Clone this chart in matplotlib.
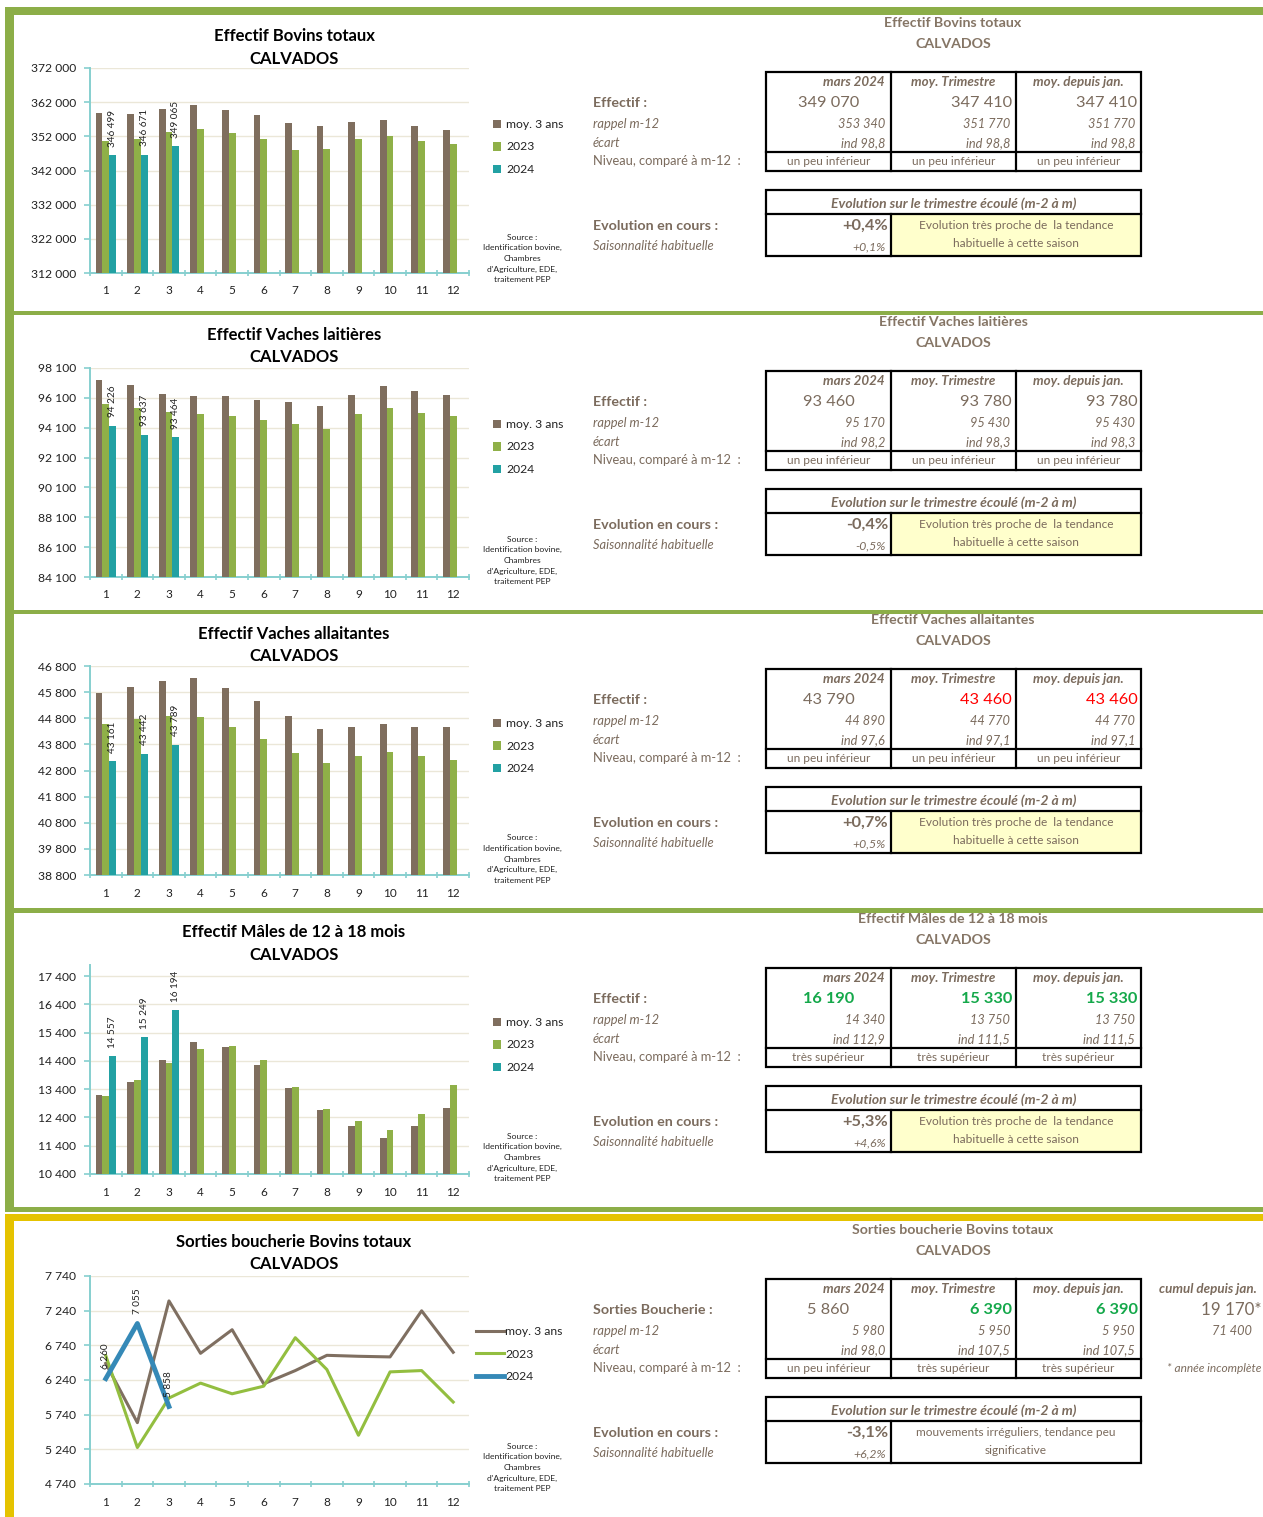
import matplotlib
matplotlib.use("Agg")
import matplotlib.pyplot as plt
from matplotlib.patches import Rectangle
import numpy as np

plt.rcParams['font.family'] = ['Lato', 'DejaVu Sans']

W, H = 1263, 1517

# ---------------- DATA ----------------
months = list(range(1, 13))
series_names = ['moy. 3 ans', '2023', '2024']

bov_moy = [358900, 358400, 360060, 361130, 359770, 358120, 356000, 355000, 356300, 356850, 355000, 353940]
bov_2023 = [350740, 351220, 353340, 354230, 353070, 351220, 348020, 348210, 351220, 352100, 350640, 349670]
bov_2024 = [346499, 346671, 349065]
bov_yticks = [312000, 322000, 332000, 342000, 352000, 362000, 372000]

vl_moy = [97290, 96930, 96390, 96220, 96200, 95975, 95796, 95550, 96266, 96870, 96579, 96266]
vl_2023 = [95718, 95426, 95170, 95020, 94870, 94610, 94342, 94006, 94990, 95415, 95080, 94879]
vl_2024 = [94226, 93637, 93464]
vl_yticks = [84100, 86100, 88100, 90100, 92100, 94100, 96100, 98100]

va_moy = [45757, 46011, 46210, 46335, 45960, 45477, 44892, 44383, 44459, 44586, 44472, 44484]
va_2023 = [44599, 44790, 44890, 44853, 44484, 44014, 43467, 43098, 43365, 43518, 43339, 43212]
va_2024 = [43161, 43442, 43789]
va_yticks = [38800, 39800, 40800, 41800, 42800, 43800, 44800, 45800, 46800]

ma_moy = [13185, 13657, 14448, 15062, 14885, 14248, 13433, 12666, 12111, 11686, 12087, 12737]
ma_2023 = [13160, 13740, 14340, 14803, 14921, 14437, 13480, 12701, 12264, 11945, 12512, 13539]
ma_2024 = [14557, 15249, 16194]
ma_yticks = [10400, 11400, 12400, 13400, 14400, 15400, 16400, 17400]

sb_moy = [6480, 5625, 7381, 6625, 6965, 6185, 6376, 6596, 6582, 6573, 7238, 6640]
sb_2023 = [6590, 5266, 5980, 6195, 6041, 6151, 6850, 6391, 5443, 6357, 6376, 5922]
sb_2024 = [6260, 7055, 5858]
sb_yticks = [4740, 5240, 5740, 6240, 6740, 7240, 7740]

titles = ['Effectif Bovins totaux', 'Effectif Vaches laitières', 'Effectif Vaches allaitantes',
          'Effectif Mâles de 12 à 18 mois', 'Sorties boucherie Bovins totaux']
region = 'CALVADOS'
source_text = "Source :\nIdentification bovine,\nChambres\nd'Agriculture, EDE,\ntraitement PEP"

tab_headers = ['mars 2024', 'moy. Trimestre', 'moy. depuis jan.']
row_labels = ['Effectif :', 'Effectif :', 'Effectif :', 'Effectif :', 'Sorties Boucherie :']

bov_tab = ['349 070', '347 410', '347 410']
bov_rappel = ['353 340', '351 770', '351 770']
bov_ecart = ['ind 98,8', 'ind 98,8', 'ind 98,8']
bov_niveau = ['un peu inférieur'] * 3

vl_tab = ['93 460', '93 780', '93 780']
vl_rappel = ['95 170', '95 430', '95 430']
vl_ecart = ['ind 98,2', 'ind 98,3', 'ind 98,3']
vl_niveau = ['un peu inférieur'] * 3

va_tab = ['43 790', '43 460', '43 460']
va_rappel = ['44 890', '44 770', '44 770']
va_ecart = ['ind 97,6', 'ind 97,1', 'ind 97,1']
va_niveau = ['un peu inférieur'] * 3

ma_tab = ['16 190', '15 330', '15 330']
ma_rappel = ['14 340', '13 750', '13 750']
ma_ecart = ['ind 112,9', 'ind 111,5', 'ind 111,5']
ma_niveau = ['très supérieur'] * 3

sb_tab = ['5 860', '6 390', '6 390']
sb_rappel = ['5 980', '5 950', '5 950']
sb_ecart = ['ind 98,0', 'ind 107,5', 'ind 107,5']
sb_niveau = ['un peu inférieur', 'très supérieur', 'très supérieur']

evol_values = ['+0,4%', '-0,4%', '+0,7%', '+5,3%', '-3,1%']
saison_values = ['+0,1%', '-0,5%', '+0,5%', '+4,6%', '+6,2%']
comment_std = 'Evolution très proche de  la tendance\nhabituelle à cette saison'
comment_irr = 'mouvements irréguliers, tendance peu\nsignificative'

cumul_header = 'cumul depuis jan.'
cumul_value = '19 170*'
cumul_rappel = '71 400'
cumul_note = '* année incomplète'

# ---------------- STYLE ----------------
C_MOY = '#7f6e5e'
C_23 = '#8fb048'
C_24 = '#22a1a3'
L_MOY = '#7f6f61'
L_23 = '#93be40'
L_24 = '#3589b7'
SPINE_C = '#86cfcf'
GRID_C = '#ebe7d8'
TXT = '#7b6b5d'
TTL = '#857565'
GREEN_V = '#14a84a'
RED_V = '#ff0000'
FRAME_G = '#8cae48'
FRAME_Y = '#e5c300'
YELLOW = '#ffffcc'


def fmt(v):
    return f"{int(round(v)):,}".replace(",", " ")


fig = plt.figure(figsize=(W / 100, H / 100), dpi=100)
ax0 = fig.add_axes([0, 0, 1, 1])
ax0.set_xlim(0, W)
ax0.set_ylim(H, 0)
ax0.axis('off')

# ---------------- FRAMES ----------------
ax0.add_patch(Rectangle((5, 7), W - 5, 8, color=FRAME_G, lw=0))
ax0.add_patch(Rectangle((5, 7), 9, 1203, color=FRAME_G, lw=0))
for ys in [310.5, 609.5, 908, 1207]:
    ax0.add_patch(Rectangle((5, ys), W - 5, 4.5, color=FRAME_G, lw=0))
ax0.add_patch(Rectangle((5, 1214), W - 5, 7, color=FRAME_Y, lw=0))
ax0.add_patch(Rectangle((5, 1214), 9, H - 1214, color=FRAME_Y, lw=0))

# ---------------- CHARTS ----------------
chart_title_y = [(36, 59), (335, 357), (634, 656), (932, 955), (1242, 1264)]
chart_axes_y = [(68, 273), (368, 577), (666, 875), (965, 1174), (1276, 1484)]
legend_mid_y = [147, 447, 746, 1045, 1354]
source_mid_y = [258.5, 560.5, 859, 1157.5, 1467.5]

bar_data = [(bov_moy, bov_2023, bov_2024, bov_yticks),
            (vl_moy, vl_2023, vl_2024, vl_yticks),
            (va_moy, va_2023, va_2024, va_yticks),
            (ma_moy, ma_2023, ma_2024, ma_yticks)]
ylims = [(312000, 372000), (84100, 98100), (38800, 46800), (10400, 17790), (4740, 7740)]

x = np.array(months)


def style_axis(ax, yticks, ylim):
    ax.set_facecolor('none')
    ax.set_xlim(0.5, 12.5)
    ax.set_ylim(*ylim)
    ax.set_yticks(yticks)
    ax.set_yticklabels([fmt(v) for v in yticks])
    ax.set_xticks(x)
    ax.set_xticklabels([str(m) for m in months])
    ax.set_xticks(np.arange(0.5, 13, 1), minor=True)
    ax.tick_params(axis='x', which='major', length=0, pad=9, labelsize=8.5, labelcolor='#222222')
    ax.tick_params(axis='x', which='minor', length=4, color=SPINE_C, width=1.2, direction='inout')
    ax.tick_params(axis='y', length=4, color=SPINE_C, width=1.2, pad=6, labelsize=8.7, labelcolor='#222222')
    ax.grid(axis='y', color=GRID_C, lw=1.0, zorder=0)
    ax.set_axisbelow(True)
    for s in ['top', 'right']:
        ax.spines[s].set_visible(False)
    for s in ['left', 'bottom']:
        ax.spines[s].set_color(SPINE_C)
        ax.spines[s].set_linewidth(1.4)


for i in range(5):
    y0, y1 = chart_axes_y[i]
    ax = fig.add_axes([90 / W, 1 - y1 / H, (469 - 90) / W, (y1 - y0) / H])
    if i < 4:
        moy, y23, y24, yt = bar_data[i]
        bw = 0.215
        h1 = ax.bar(x - bw, moy, bw, color=C_MOY, label=series_names[0], zorder=3)
        h2 = ax.bar(x, y23, bw, color=C_23, label=series_names[1], zorder=3)
        x24 = x[:len(y24)]
        h3 = ax.bar(x24 + bw, y24, bw, color=C_24, label=series_names[2], zorder=3)
        for xi, v in zip(x24, y24):
            ax.annotate(fmt(v), (xi + bw, v), xytext=(0, 6), textcoords='offset points',
                        rotation=90, ha='center', va='bottom', fontsize=7.2, color='#222222')
        style_axis(ax, yt, ylims[i])
        leg = ax.legend(handles=[h1, h2, h3], loc='center left',
                        bbox_to_anchor=(482 / W, 1 - legend_mid_y[i] / H),
                        bbox_transform=fig.transFigure, frameon=False, fontsize=8.7,
                        handlelength=0.7, handleheight=0.7, handletextpad=0.4, labelspacing=0.95)
    else:
        l1, = ax.plot(x, sb_moy, color=L_MOY, lw=2.2, label=series_names[0], zorder=3)
        l2, = ax.plot(x, sb_2023, color=L_23, lw=2.2, label=series_names[1], zorder=3)
        x24 = x[:len(sb_2024)]
        l3, = ax.plot(x24, sb_2024, color=L_24, lw=3.5, label=series_names[2], zorder=4)
        for xi, v in zip(x24, sb_2024):
            ax.annotate(fmt(v), (xi, v), xytext=(0, 7), textcoords='offset points',
                        rotation=90, ha='center', va='bottom', fontsize=7.2, color='#222222', zorder=5)
        style_axis(ax, sb_yticks, ylims[i])
        leg = ax.legend(handles=[l1, l2, l3], loc='center left',
                        bbox_to_anchor=(465 / W, 1 - legend_mid_y[i] / H),
                        bbox_transform=fig.transFigure, frameon=False, fontsize=8.7,
                        handlelength=2.3, handletextpad=0.15, labelspacing=0.95)
    for t in leg.get_texts():
        t.set_color('#222222')
    ty1, ty2 = chart_title_y[i]
    ax0.text(294, ty1, titles[i], ha='center', va='center', fontsize=12, fontweight='bold', color='black')
    ax0.text(294, ty2, region, ha='center', va='center', fontsize=12, fontweight='bold', color='black')
    ax0.text(522, source_mid_y[i], source_text, ha='center', va='center', fontsize=6.1,
             linespacing=1.6, color='#222222')

# ---------------- TABLES ----------------
bases = [0, 299, 597, 896, 1207]
tab_vals = [bov_tab, vl_tab, va_tab, ma_tab, sb_tab]
tab_rappel = [bov_rappel, vl_rappel, va_rappel, ma_rappel, sb_rappel]
tab_ecart = [bov_ecart, vl_ecart, va_ecart, ma_ecart, sb_ecart]
tab_niveau = [bov_niveau, vl_niveau, va_niveau, ma_niveau, sb_niveau]
val_styles = [
    [(TXT, 'normal')] * 3,
    [(TXT, 'normal')] * 3,
    [(TXT, 'normal'), (RED_V, 'normal'), (RED_V, 'normal')],
    [(GREEN_V, 'bold')] * 3,
    [(TXT, 'normal'), (GREEN_V, 'bold'), (GREEN_V, 'bold')],
]
comments = [comment_std, comment_std, comment_std, comment_std, comment_irr]
yellow_fill = [True, True, True, True, False]

xs = [766, 891, 1016, 1141]
col_c = [828.5, 953.5, 1078.5]
col_r = [885, 1010, 1135]
col_rv = [887, 1012, 1137.5]
LW = 1.6

for i, b in enumerate(bases):
    T = lambda y: y + b
    ax0.text(953, T(23), titles[i], ha='center', va='center', fontsize=10.2, fontweight='bold', color=TTL)
    ax0.text(953, T(44), region, ha='center', va='center', fontsize=10.2, fontweight='bold', color=TTL)
    # left labels
    ax0.text(593, T(103), row_labels[i], ha='left', va='center', fontsize=10.3, fontweight='bold', color=TXT)
    ax0.text(593, T(124), 'rappel m-12', ha='left', va='center', fontsize=9.3, style='italic', color=TXT)
    ax0.text(593, T(143), 'écart', ha='left', va='center', fontsize=9.3, style='italic', color=TXT)
    ax0.text(593, T(161), 'Niveau, comparé à m-12  :', ha='left', va='center', fontsize=9.3, color=TXT)
    ax0.text(593, T(226), 'Evolution en cours :', ha='left', va='center', fontsize=10.3, fontweight='bold', color=TXT)
    ax0.text(593, T(246), 'Saisonnalité habituelle', ha='left', va='center', fontsize=9.3, style='italic', color=TXT)
    # main table box
    ax0.add_patch(Rectangle((766, T(72)), 375, 99, fill=False, lw=LW, ec='black', zorder=5))
    for xv in xs[1:3]:
        ax0.plot([xv, xv], [T(72), T(171)], color='black', lw=LW, zorder=5)
    ax0.plot([766, 1141], [T(152), T(152)], color='black', lw=LW, zorder=5)
    # headers
    ax0.text(col_r[0], T(82), tab_headers[0], ha='right', va='center', fontsize=9.6,
             fontweight='bold', style='italic', color=TXT)
    for j in (1, 2):
        ax0.text(col_c[j], T(82), tab_headers[j], ha='center', va='center', fontsize=9.6,
                 fontweight='bold', style='italic', color=TXT)
    # values
    for j in range(3):
        c, wgt = val_styles[i][j]
        if j == 0:
            ax0.text(col_c[0], T(103), tab_vals[i][j], ha='center', va='center', fontsize=11.8,
                     fontweight=wgt, color=c)
        else:
            ax0.text(col_rv[j], T(103), tab_vals[i][j], ha='right', va='center', fontsize=11.8,
                     fontweight=wgt, color=c)
        ax0.text(col_r[j], T(124), tab_rappel[i][j], ha='right', va='center', fontsize=9.2,
                 style='italic', color=TXT)
        ax0.text(col_r[j], T(143), tab_ecart[i][j], ha='right', va='center', fontsize=9.2,
                 style='italic', color=TXT)
        ax0.text(col_c[j], T(161.5), tab_niveau[i][j], ha='center', va='center', fontsize=8.6, color=TXT)
    # evolution box
    if yellow_fill[i]:
        ax0.add_patch(Rectangle((891, T(214)), 250, 42, color=YELLOW, lw=0, zorder=1))
    ax0.add_patch(Rectangle((766, T(190)), 375, 66, fill=False, lw=LW, ec='black', zorder=5))
    ax0.plot([766, 1141], [T(214), T(214)], color='black', lw=LW, zorder=5)
    ax0.plot([891, 891], [T(214), T(256)], color='black', lw=LW, zorder=5)
    ax0.text(953.5, T(204), 'Evolution sur le trimestre écoulé (m-2 à m)', ha='center', va='center',
             fontsize=10, fontweight='bold', style='italic', color=TXT)
    ax0.text(888, T(226), evol_values[i], ha='right', va='center', fontsize=11.8, fontweight='bold', color=TXT)
    ax0.text(886, T(246.5), saison_values[i], ha='right', va='center', fontsize=8.8, style='italic', color=TXT)
    ax0.text(1016, T(234.5), comments[i], ha='center', va='center', fontsize=8.6, color=TXT,
             linespacing=1.75, zorder=3)

# extra cumul column (last panel)
b = bases[4]
ax0.text(1208, b + 82, cumul_header, ha='center', va='center', fontsize=9.6, fontweight='bold',
         style='italic', color=TXT)
ax0.text(1262, b + 103, cumul_value, ha='right', va='center', fontsize=12.2, color=TXT)
ax0.text(1252, b + 124, cumul_rappel, ha='right', va='center', fontsize=9.2, style='italic', color=TXT)
ax0.text(1261, b + 162, cumul_note, ha='right', va='center', fontsize=8.6, style='italic', color=TXT)

fig.savefig('out.png', dpi=100)
